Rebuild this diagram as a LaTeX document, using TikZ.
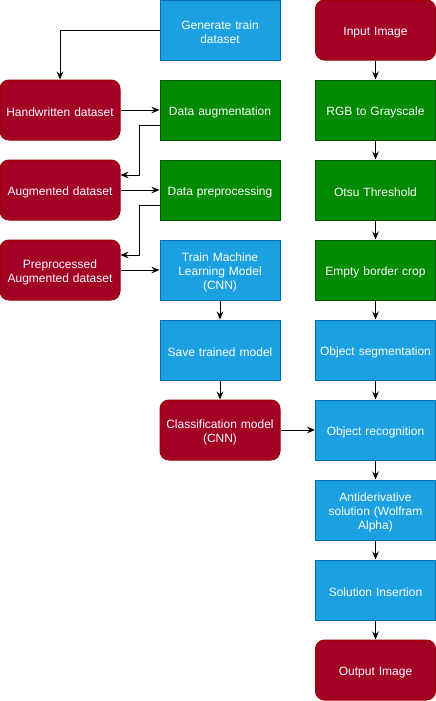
\documentclass[tikz,border=0pt]{standalone}
\usepackage{fontspec}
\setmainfont{Liberation Sans}
\usetikzlibrary{arrows.meta}

\begin{document}
\begin{tikzpicture}[x=0.75pt, y=-0.75pt,
		every node/.style={rectangle, minimum width=90pt, minimum height=45pt, inner sep=2pt,
			align=center, text width=84pt, text=white, font=\fontsize{9}{10.5}\selectfont, line width=0.75pt,
			execute at begin node={\rule{0pt}{10pt}}},
		redbox/.style={draw=red!60!black, fill={rgb,255:red,162;green,0;blue,37}, rounded corners=6.75pt},
		greenbox/.style={draw={rgb,255:red,0;green,87;blue,0}, fill={rgb,255:red,0;green,138;blue,0}},
		bluebox/.style={draw={rgb,255:red,0;green,110;blue,175}, fill={rgb,255:red,27;green,161;blue,226}},
		flow/.style={-{Stealth[length=6pt, width=5pt, inset=2pt]}, line width=0.75pt}]
		\useasboundingbox (0,0) rectangle (436,701);

		\node[bluebox] (genTrain) at (220,30) {Generate train\\dataset};
		\node[greenbox] (dataAug) at (220,110) {Data augmentation};
		\node[greenbox] (dataPrep) at (220,190) {Data preprocessing};
		\node[bluebox] (trainModel) at (220,270) {Train Machine\\Learning Model\\(CNN)};
		\node[bluebox] (saveModel) at (220,350) {Save trained model};
		\node[redbox] (classModel) at (220,430) {Classification model\\(CNN)};

		\node[redbox] (handDs) at (60,110) {Handwritten dataset};
		\node[redbox] (augDs) at (60,190) {Augmented dataset};
		\node[redbox] (prepDs) at (60,270) {Preprocessed\\Augmented dataset};

		\node[redbox] (inputImg) at (375.5,30) {Input Image};
		\node[greenbox] (rgbGray) at (375.5,110) {RGB to Grayscale};
		\node[greenbox] (otsu) at (375.5,190) {Otsu Threshold};
		\node[greenbox] (borderCrop) at (375.5,270) {Empty border crop};
		\node[bluebox] (objSeg) at (375.5,350) {Object segmentation};
		\node[bluebox] (objRec) at (375.5,430) {Object recognition};
		\node[bluebox] (antideriv) at (375.5,510) {Antiderivative\\solution (Wolfram\\Alpha)};
		\node[bluebox] (solIns) at (375.5,590) {Solution Insertion};
		\node[redbox] (outputImg) at (375.5,670) {Output Image};

		\draw[flow] (genTrain.west) -| (handDs.north);
		\draw[flow] (handDs) -- (dataAug);
		\draw[flow] ([yshift=-11.25pt]dataAug.west) -- ++(-20,0) |- ([yshift=11.25pt]augDs.east);
		\draw[flow] (augDs) -- (dataPrep);
		\draw[flow] ([yshift=-11.25pt]dataPrep.west) -- ++(-20,0) |- ([yshift=11.25pt]prepDs.east);
		\draw[flow] (prepDs) -- (trainModel);
		\draw[flow] (trainModel) -- (saveModel);
		\draw[flow] (saveModel) -- (classModel);
		\draw[flow] (classModel) -- (objRec);

		\draw[flow] (inputImg) -- (rgbGray);
		\draw[flow] (rgbGray) -- (otsu);
		\draw[flow] (otsu) -- (borderCrop);
		\draw[flow] (borderCrop) -- (objSeg);
		\draw[flow] (objSeg) -- (objRec);
		\draw[flow] (objRec) -- (antideriv);
		\draw[flow] (antideriv) -- (solIns);
		\draw[flow] (solIns) -- (outputImg);
	\end{tikzpicture}
\end{document}
